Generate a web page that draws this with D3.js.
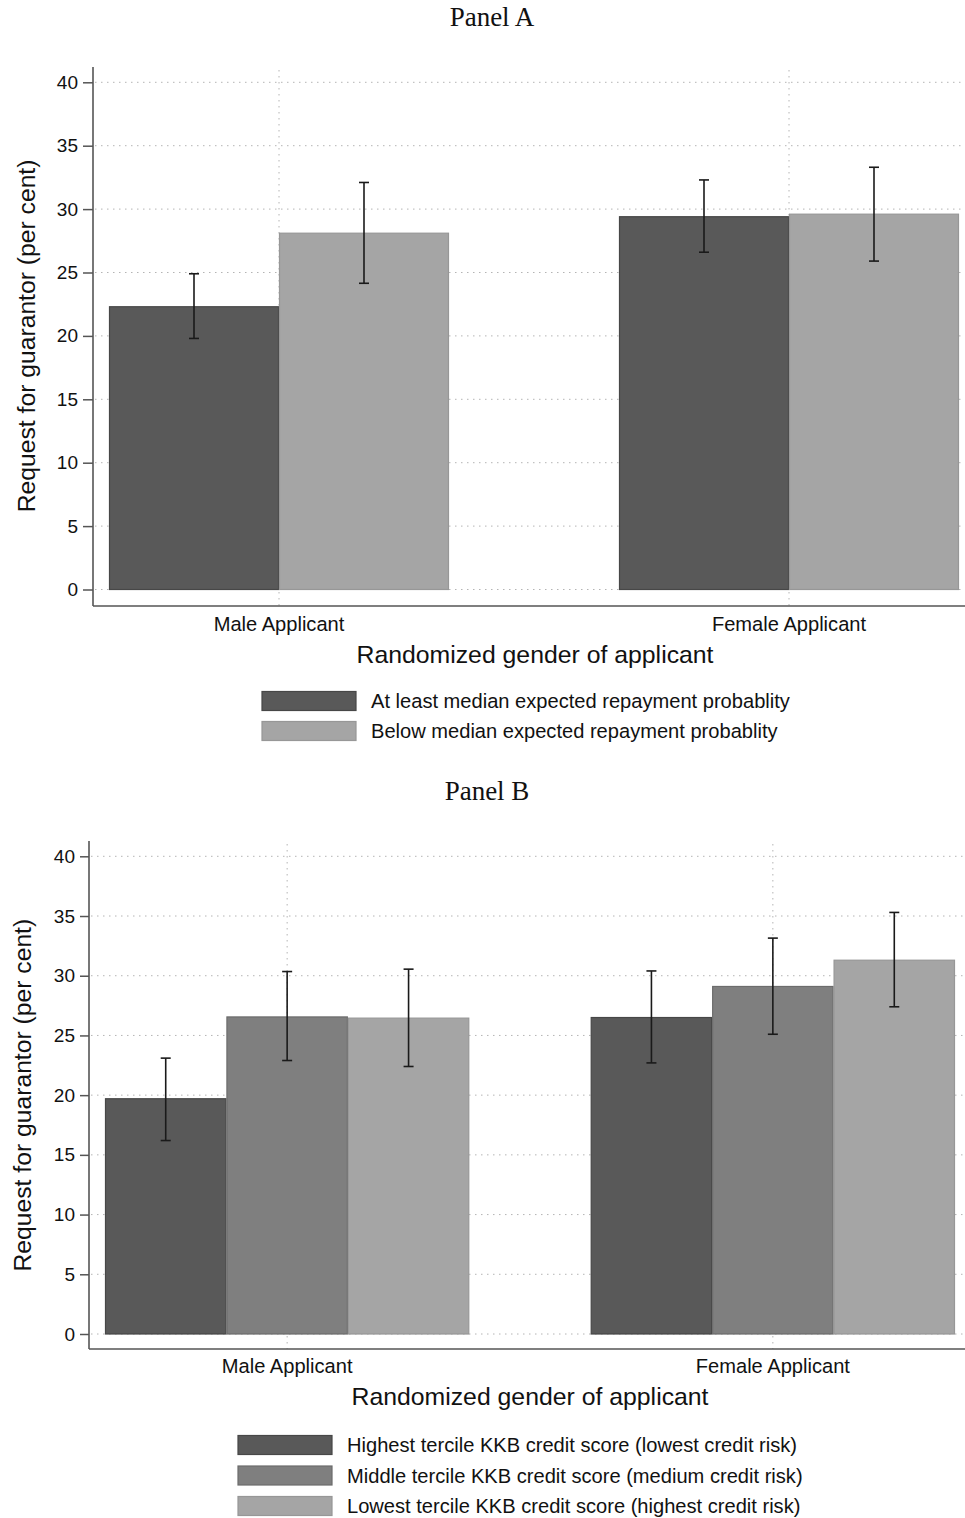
<!DOCTYPE html>
<html>
<head>
<meta charset="utf-8">
<script src="https://cdn.jsdelivr.net/npm/d3@7"></script>
<style>
  html, body { margin: 0; padding: 0; background: #ffffff; }
  svg { display: block; }
</style>
</head>
<body>
<svg id="chart" width="965" height="1518"></svg>
<script>
// ---------------- DATA ----------------
const categories = ["Male Applicant", "Female Applicant"];
const yTicks = [0, 5, 10, 15, 20, 25, 30, 35, 40];

// Panel A
const panelATitle = "Panel A";
const panelASeries = [
  "At least median expected repayment probablity",
  "Below median expected repayment probablity"
];
const panelAAtLeastMedian = [22.3, 29.4];
const panelAAtLeastMedianLow = [19.8, 26.6];
const panelAAtLeastMedianHigh = [24.9, 32.3];
const panelABelowMedian = [28.1, 29.6];
const panelABelowMedianLow = [24.15, 25.9];
const panelABelowMedianHigh = [32.1, 33.3];

// Panel B
const panelBTitle = "Panel B";
const panelBSeries = [
  "Highest tercile KKB credit score (lowest credit risk)",
  "Middle tercile KKB credit score (medium credit risk)",
  "Lowest tercile KKB credit score (highest credit risk)"
];
const panelBHighest = [19.7, 26.5];
const panelBHighestLow = [16.2, 22.7];
const panelBHighestHigh = [23.1, 30.4];
const panelBMiddle = [26.55, 29.1];
const panelBMiddleLow = [22.9, 25.1];
const panelBMiddleHigh = [30.35, 33.15];
const panelBLowest = [26.45, 31.3];
const panelBLowestLow = [22.4, 27.4];
const panelBLowestHigh = [30.55, 35.3];

const xTitle = "Randomized gender of applicant";
const yTitle = "Request for guarantor (per cent)";

// ---------------- STYLE ----------------
const SANS = "'Liberation Sans', Arial, Helvetica, sans-serif";
const SERIF = "'Liberation Serif', 'Times New Roman', serif";
const fills = { dark: "#595959", mid: "#7f7f7f", light: "#a5a5a5" };
const strokes = { dark: "#474747", mid: "#6c6c6c", light: "#979797" };

const svg = d3.select("#chart");

function buildRows(seriesNames, values, lows, highs) {
  const rows = [];
  categories.forEach((c, ci) => {
    seriesNames.forEach((s, si) => {
      rows.push({ cat: c, series: s, value: values[si][ci], lo: lows[si][ci], hi: highs[si][ci] });
    });
  });
  return rows;
}

function drawPanel(cfg) {
  const g = svg.append("g");
  const y = d3.scaleLinear().domain([0, 40]).range([cfg.y0, cfg.y40]);
  const x = d3.scaleBand().domain(categories).range(cfg.xRange)
    .paddingInner(cfg.padInner).paddingOuter(0);
  const xs = d3.scaleBand().domain(cfg.series).range([0, x.bandwidth()]).padding(0);
  const color = d3.scaleOrdinal().domain(cfg.series).range(cfg.colorKeys);

  // title
  g.append("text").attr("x", cfg.titleX).attr("y", cfg.titleY)
    .attr("text-anchor", "middle").attr("font-family", SERIF)
    .attr("font-size", 27).attr("fill", "#111").text(cfg.title);

  // horizontal gridlines
  g.append("g").selectAll("line").data(yTicks).join("line")
    .attr("x1", cfg.yAxisX + 2).attr("x2", 965)
    .attr("y1", d => y(d)).attr("y2", d => y(d))
    .attr("stroke", "#b4b4b4").attr("stroke-width", 1)
    .attr("stroke-dasharray", "1.5,4.5");

  // vertical gridlines at category centers
  g.append("g").selectAll("line").data(categories).join("line")
    .attr("x1", d => x(d) + x.bandwidth() / 2).attr("x2", d => x(d) + x.bandwidth() / 2)
    .attr("y1", cfg.top + 3).attr("y2", cfg.bottom)
    .attr("stroke", "#b4b4b4").attr("stroke-width", 1)
    .attr("stroke-dasharray", "1.5,4.5");

  const rows = buildRows(cfg.series, cfg.values, cfg.lows, cfg.highs);

  // bars
  g.append("g").selectAll("rect").data(rows).join("rect")
    .attr("x", d => x(d.cat) + xs(d.series) + 0.5)
    .attr("width", xs.bandwidth() - 1)
    .attr("y", d => y(d.value))
    .attr("height", d => y(0) - y(d.value))
    .attr("fill", d => fills[color(d.series)])
    .attr("stroke", d => strokes[color(d.series)])
    .attr("stroke-width", 1.2);

  // error bars
  const eb = g.append("g").selectAll("g").data(rows).join("g")
    .attr("transform", d => `translate(${x(d.cat) + xs(d.series) + xs.bandwidth() / 2},0)`);
  eb.append("line").attr("x1", 0).attr("x2", 0)
    .attr("y1", d => y(d.lo)).attr("y2", d => y(d.hi))
    .attr("stroke", "#1a1a1a").attr("stroke-width", 1.6);
  eb.append("line").attr("x1", -5).attr("x2", 5)
    .attr("y1", d => y(d.hi)).attr("y2", d => y(d.hi))
    .attr("stroke", "#1a1a1a").attr("stroke-width", 1.6);
  eb.append("line").attr("x1", -5).attr("x2", 5)
    .attr("y1", d => y(d.lo)).attr("y2", d => y(d.lo))
    .attr("stroke", "#1a1a1a").attr("stroke-width", 1.6);

  // y axis
  const yAxis = g.append("g").attr("transform", `translate(${cfg.yAxisX},0)`)
    .call(d3.axisLeft(y).tickValues(yTicks).tickSize(cfg.tickLen).tickPadding(5).tickFormat(d3.format("d")));
  yAxis.select(".domain").remove();
  yAxis.selectAll(".tick line").attr("stroke", "#555").attr("stroke-width", 1.5);
  yAxis.selectAll(".tick text").attr("font-family", SANS).attr("font-size", 19).attr("fill", "#111");

  // axis lines
  g.append("line").attr("x1", cfg.yAxisX).attr("x2", cfg.yAxisX)
    .attr("y1", cfg.top).attr("y2", cfg.bottom)
    .attr("stroke", "#555").attr("stroke-width", 1.6);
  g.append("line").attr("x1", cfg.yAxisX).attr("x2", 965)
    .attr("y1", cfg.bottom).attr("y2", cfg.bottom)
    .attr("stroke", "#555").attr("stroke-width", 1.6);

  // category labels
  g.append("g").selectAll("text").data(categories).join("text")
    .attr("x", d => x(d) + x.bandwidth() / 2).attr("y", cfg.catLabelY)
    .attr("text-anchor", "middle").attr("font-family", SANS)
    .attr("font-size", 20.1).attr("fill", "#111").text(d => d);

  // x title
  g.append("text").attr("x", cfg.xTitleX).attr("y", cfg.xTitleY)
    .attr("text-anchor", "middle").attr("font-family", SANS)
    .attr("font-size", 24.8).attr("fill", "#111").text(xTitle);

  // y title
  g.append("text")
    .attr("transform", `translate(${cfg.yTitleX},${(y(0) + y(40)) / 2}) rotate(-90)`)
    .attr("text-anchor", "middle").attr("dy", "0.35em")
    .attr("font-family", SANS).attr("font-size", 24.7).attr("fill", "#111").text(yTitle);

  // legend
  const leg = g.append("g").selectAll("g").data(cfg.series).join("g")
    .attr("transform", (d, i) => `translate(0,${cfg.legendY0 + i * cfg.legendStep})`);
  leg.append("rect").attr("x", cfg.legendBoxX).attr("y", -9.5)
    .attr("width", 94).attr("height", 19)
    .attr("fill", d => fills[color(d)]).attr("stroke", d => strokes[color(d)]).attr("stroke-width", 1.2);
  leg.append("text").attr("x", cfg.legendTextX).attr("y", 0).attr("dy", "0.35em")
    .attr("font-family", SANS).attr("font-size", 20.1).attr("fill", "#111").text(d => d);
}

drawPanel({
  title: panelATitle, titleX: 492, titleY: 26,
  series: panelASeries, colorKeys: ["dark", "light"],
  values: [panelAAtLeastMedian, panelABelowMedian],
  lows: [panelAAtLeastMedianLow, panelABelowMedianLow],
  highs: [panelAAtLeastMedianHigh, panelABelowMedianHigh],
  top: 67, bottom: 606, yAxisX: 93, tickLen: 10,
  y0: 589.5, y40: 82.3, xRange: [109, 959], padInner: 1 / 3,
  catLabelY: 631, xTitleX: 535, xTitleY: 663, yTitleX: 26,
  legendY0: 701, legendStep: 30, legendBoxX: 262, legendTextX: 371
});

drawPanel({
  title: panelBTitle, titleX: 487, titleY: 800,
  series: panelBSeries, colorKeys: ["dark", "mid", "light"],
  values: [panelBHighest, panelBMiddle, panelBLowest],
  lows: [panelBHighestLow, panelBMiddleLow, panelBLowestLow],
  highs: [panelBHighestHigh, panelBMiddleHigh, panelBLowestHigh],
  top: 841, bottom: 1349, yAxisX: 89, tickLen: 9,
  y0: 1334, y40: 856.3, xRange: [105, 955], padInner: 0.25,
  catLabelY: 1373, xTitleX: 530, xTitleY: 1405, yTitleX: 22,
  legendY0: 1445, legendStep: 30.5, legendBoxX: 238, legendTextX: 347
});
</script>
</body>
</html>
